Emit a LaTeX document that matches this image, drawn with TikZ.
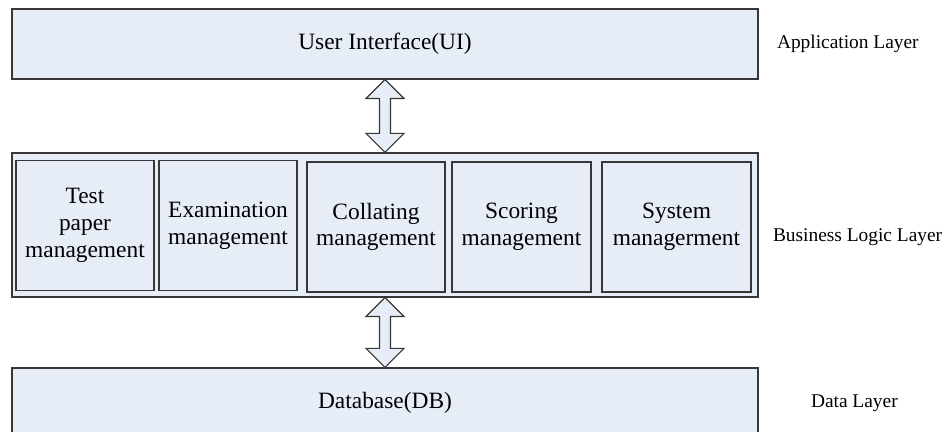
\documentclass[tikz,border=0pt]{standalone}
\usepackage{fontspec}
\setmainfont{Liberation Serif}
\usetikzlibrary{positioning,calc}

\definecolor{layerfill}{RGB}{230,237,247}
\definecolor{edgegray}{RGB}{55,55,55}

\tikzset{
  layerbox/.style={draw=edgegray, fill=layerfill, line width=0.6pt, inner sep=0pt,
    font=\fontsize{11.7}{13.4}\selectfont},
  modbox/.style={layerbox, minimum height=65pt, align=center},
  layername/.style={inner sep=0pt, font=\fontsize{9.7}{11}\selectfont},
  dblarrow/.style={draw=edgegray, fill=layerfill, line width=0.6pt, line join=miter},
}

\begin{document}
\begin{tikzpicture}[x=0.5pt,y=0.5pt]
  \useasboundingbox (0,0) rectangle (944,432);
  % layers
  \node[layerbox, minimum width=373pt, minimum height=35pt] (ui) at (385,388) {User Interface(UI)};
  \node[layerbox, minimum width=373pt, minimum height=72pt] (bll) at (385,207) {};
  \node[layerbox, minimum width=373pt, minimum height=35pt] (db) at (385,29) {Database(DB)};
  % modules
  \node[modbox, minimum width=69pt] (m1) at (85,206.5) {Test\\paper\\management};
  \node[modbox, minimum width=69pt] (m2) at (228,206.5) {Examination\\management};
  \node[modbox, minimum width=69pt] (m3) at (376,205) {Collating\\management};
  \node[modbox, minimum width=69.5pt] (m4) at (521.5,205) {Scoring\\management};
  \node[modbox, minimum width=74.5pt] (m5) at (676.5,205) {System\\managerment};
  % layer names
  \node[layername, right=9pt of ui] (app) {Application Layer};
  \node[layername, right=7pt of bll, yshift=-6pt] (bus) {Business Logic Layer};
  \node[layername, right=26pt of db] (dat) {Data Layer};
  % arrows
  \draw[dblarrow] (ui.south) -- ++(19,-19) -- ++(-13.5,0) -- ($(bll.north)+(5.5,19)$)
    -- ++(13.5,0) -- (bll.north) -- ++(-19,19) -- ++(13.5,0)
    -- ($(ui.south)+(-5.5,-19)$) -- ++(-13.5,0) -- cycle;
  \draw[dblarrow] (bll.south) -- ++(19,-19) -- ++(-13.5,0) -- ($(db.north)+(5.5,19)$)
    -- ++(13.5,0) -- (db.north) -- ++(-19,19) -- ++(13.5,0)
    -- ($(bll.south)+(-5.5,-19)$) -- ++(-13.5,0) -- cycle;
\end{tikzpicture}
\end{document}
